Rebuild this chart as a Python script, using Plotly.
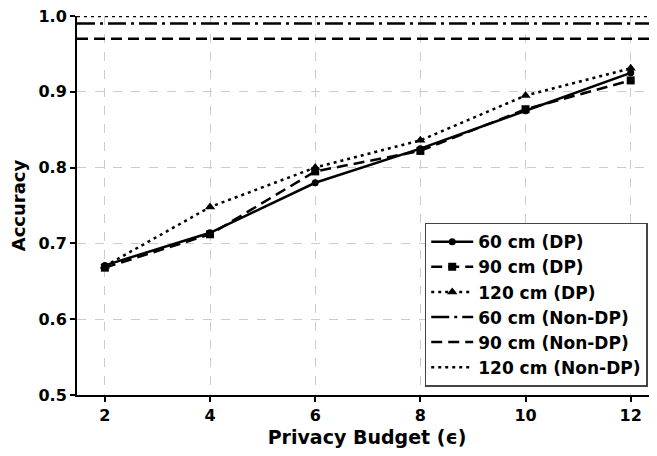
import plotly.graph_objects as go

epsilons = [2, 4, 6, 8, 10, 12]
acc_60_dp = [0.671, 0.714, 0.780, 0.825, 0.875, 0.925]
acc_90_dp = [0.668, 0.712, 0.795, 0.822, 0.877, 0.915]
acc_120_dp = [0.670, 0.748, 0.800, 0.836, 0.895, 0.931]
acc_60_nondp = 0.99
acc_90_nondp = 0.97
acc_120_nondp = 1.0
x_span = [1.47, 12.5]

DASH = "11px,6px"
DOT = "3px,4px"
DASHDOT = "18px,5px,3px,5px"

fig = go.Figure()
fig.add_trace(go.Scatter(x=epsilons, y=acc_60_dp, mode="lines+markers", name="60 cm (DP)",
                         line=dict(color="black", width=2.5, dash="solid"),
                         marker=dict(symbol="circle", size=7, color="black")))
fig.add_trace(go.Scatter(x=epsilons, y=acc_90_dp, mode="lines+markers", name="90 cm (DP)",
                         line=dict(color="black", width=2.5, dash=DASH),
                         marker=dict(symbol="square", size=8, color="black")))
fig.add_trace(go.Scatter(x=epsilons, y=acc_120_dp, mode="lines+markers", name="120 cm (DP)",
                         line=dict(color="black", width=2.5, dash=DOT),
                         marker=dict(symbol="triangle-up", size=9, color="black")))
fig.add_trace(go.Scatter(x=x_span, y=[acc_60_nondp] * 2, mode="lines", name="60 cm (Non-DP)",
                         line=dict(color="black", width=2.5, dash=DASHDOT)))
fig.add_trace(go.Scatter(x=x_span, y=[acc_90_nondp] * 2, mode="lines", name="90 cm (Non-DP)",
                         line=dict(color="black", width=2.5, dash=DASH)))
fig.add_trace(go.Scatter(x=x_span, y=[acc_120_nondp] * 2, mode="lines", name="120 cm (Non-DP)",
                         line=dict(color="black", width=2.5, dash=DOT), cliponaxis=False))

font_b = "DejaVu Sans"
fig.update_layout(
    width=649, height=448,
    margin=dict(l=69, r=0, t=8, b=61),
    plot_bgcolor="white", paper_bgcolor="white",
    font=dict(family=font_b, color="black", size=14),
    showlegend=True,
    legend=dict(x=0.984, y=0.022, xanchor="right", yanchor="bottom",
                bordercolor="#444", borderwidth=1.5, bgcolor="white",
                font=dict(family=font_b, size=17, weight="bold"),
                itemwidth=42, tracegroupgap=0),
    xaxis=dict(range=x_span, tickvals=epsilons, ticktext=[str(e) for e in epsilons],
               automargin=False, ticklabeloverflow="allow",
               showline=True, linecolor="black", linewidth=2,
               ticks="outside", ticklen=5, tickwidth=2, tickcolor="black",
               showgrid=True, gridcolor="#cccccc", griddash="dash", gridwidth=1,
               zeroline=False,
               tickfont=dict(family=font_b, size=16, weight="bold"),
               title=dict(text="Privacy Budget (ϵ)", font=dict(family=font_b, size=19, weight="bold"), standoff=6)),
    yaxis=dict(range=[0.5, 1.0], tickvals=[0.5, 0.6, 0.7, 0.8, 0.9, 1.0], tickformat=".1f",
               automargin=False, ticklabeloverflow="allow",
               showline=True, linecolor="black", linewidth=2,
               ticks="outside", ticklen=5, tickwidth=2, tickcolor="black",
               showgrid=True, gridcolor="#cccccc", griddash="dash", gridwidth=1,
               zeroline=False,
               tickfont=dict(family=font_b, size=16, weight="bold"),
               title=dict(text="Accuracy", font=dict(family=font_b, size=18, weight="bold"), standoff=8)),
)

fig.write_html("out.html")
